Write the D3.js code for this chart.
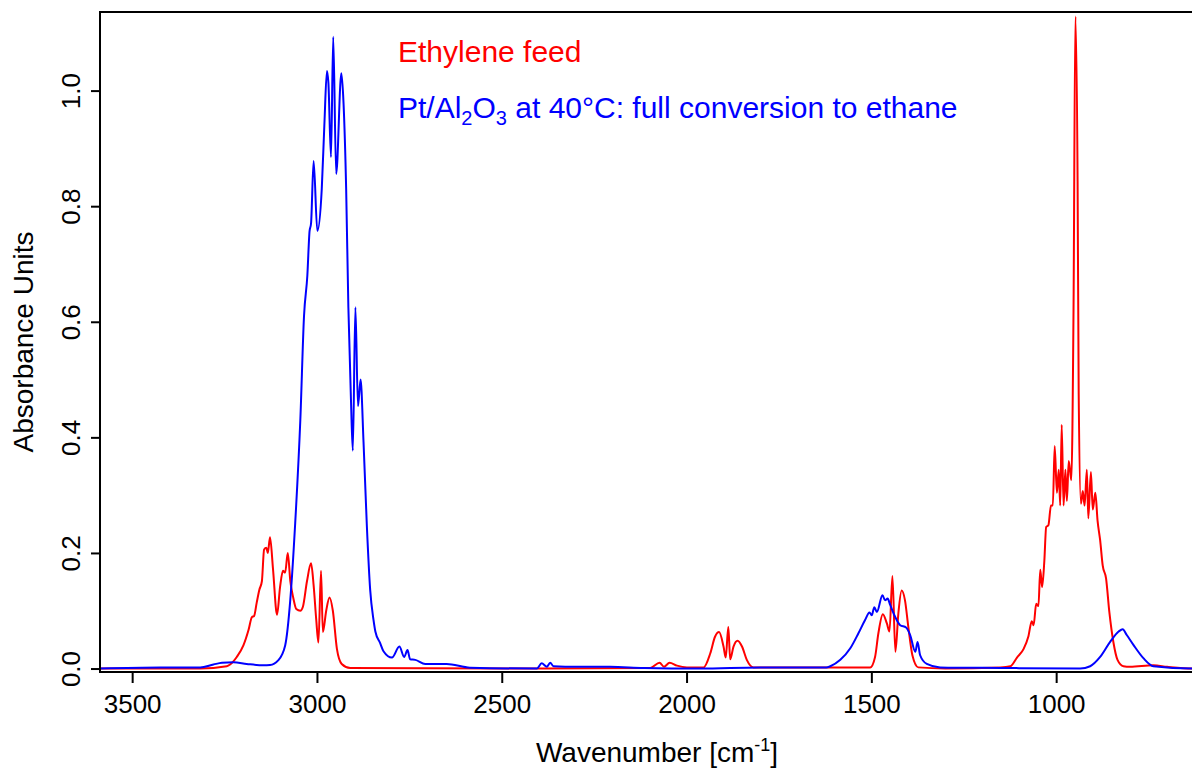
<!DOCTYPE html>
<html>
<head>
<meta charset="utf-8">
<script src="https://cdn.jsdelivr.net/npm/d3@7"></script>
<style>
  body { margin: 0; background: #fff; }
  text { font-family: "Liberation Sans", Arial, sans-serif; }
</style>
</head>
<body>
<div id="chart"></div>
<script>
// [wavenumber cm-1, absorbance]
var ethyleneFeed = [
  [3600, 0.0], [3316, 0.0], [3244, 0.004], [3235, 0.007], [3217, 0.02], [3199, 0.04],
  [3185, 0.067], [3176, 0.089], [3170, 0.091], [3163, 0.114], [3156, 0.136], [3149, 0.151],
  [3143, 0.206], [3137, 0.209], [3133, 0.2], [3127, 0.227], [3119, 0.173], [3108, 0.093],
  [3100, 0.14], [3092, 0.169], [3086, 0.166], [3079, 0.2], [3072, 0.151], [3064, 0.122],
  [3056, 0.103], [3045, 0.1], [3038, 0.107], [3027, 0.151], [3016, 0.182], [3009, 0.144],
  [3002, 0.085], [2996, 0.045], [2989, 0.169], [2984, 0.063], [2975, 0.1], [2966, 0.123],
  [2957, 0.1], [2946, 0.034], [2933, 0.008], [2910, 0.001], [2500, 0.0], [2098, 0.001],
  [2073, 0.01], [2061, 0.003], [2046, 0.01], [2026, 0.005], [1999, 0.002], [1954, 0.002],
  [1936, 0.026], [1923, 0.055], [1912, 0.063], [1900, 0.038], [1894, 0.019], [1887, 0.072],
  [1882, 0.016], [1873, 0.038], [1862, 0.048], [1850, 0.038], [1837, 0.015], [1819, 0.002],
  [1503, 0.002], [1490, 0.02], [1481, 0.061], [1469, 0.094], [1458, 0.078], [1451, 0.064],
  [1443, 0.16], [1435, 0.029], [1427, 0.095], [1418, 0.135], [1409, 0.118], [1400, 0.072],
  [1389, 0.023], [1373, 0.002], [1300, 0.0], [1151, 0.002], [1124, 0.004], [1106, 0.019],
  [1088, 0.034], [1075, 0.056], [1066, 0.082], [1061, 0.075], [1054, 0.112], [1048, 0.108],
  [1043, 0.171], [1038, 0.141], [1032, 0.186], [1027, 0.245], [1021, 0.248], [1014, 0.282],
  [1009, 0.282], [1004, 0.385], [998, 0.304], [993, 0.344], [989, 0.282], [985, 0.422],
  [980, 0.282], [975, 0.344], [971, 0.29], [966, 0.359], [959, 0.326], [953, 0.622],
  [948, 1.128], [942, 0.843], [939, 0.474], [933, 0.285], [928, 0.307], [923, 0.282],
  [917, 0.344], [913, 0.26], [906, 0.34], [901, 0.275], [894, 0.304], [888, 0.256],
  [881, 0.222], [874, 0.178], [865, 0.156], [856, 0.097], [845, 0.045], [834, 0.015],
  [818, 0.004], [800, 0.003], [737, 0.0055], [700, 0.003], [632, 0.0], [600, 0.0]
];

var ethaneProduct = [
  [3600, 0.0], [3424, 0.002], [3316, 0.002], [3280, 0.007], [3257, 0.01], [3226, 0.011],
  [3190, 0.008], [3145, 0.0055], [3127, 0.006], [3105, 0.014], [3086, 0.04], [3072, 0.12],
  [3059, 0.25], [3045, 0.43], [3035, 0.61], [3026, 0.68], [3020, 0.757], [3016, 0.77],
  [3009, 0.878], [2999, 0.757], [2987, 0.83], [2980, 0.94], [2973, 1.034], [2969, 1.013],
  [2962, 0.885], [2956, 1.093], [2948, 0.856], [2934, 1.03], [2928, 0.977], [2921, 0.83],
  [2915, 0.625], [2908, 0.465], [2903, 0.377], [2896, 0.625], [2889, 0.454], [2882, 0.5],
  [2874, 0.392], [2865, 0.247], [2856, 0.136], [2847, 0.084], [2842, 0.064], [2829, 0.044],
  [2820, 0.03], [2797, 0.019], [2777, 0.038], [2764, 0.02], [2755, 0.032], [2748, 0.016],
  [2734, 0.015], [2707, 0.008], [2649, 0.008], [2586, 0.0015], [2405, 0.0], [2392, 0.009],
  [2378, 0.003], [2369, 0.01], [2360, 0.004], [2297, 0.003], [2207, 0.003], [2117, 0.001],
  [1963, 0.0], [1801, 0.002], [1622, 0.002], [1611, 0.004], [1584, 0.015], [1557, 0.035],
  [1535, 0.061], [1517, 0.084], [1505, 0.097], [1499, 0.092], [1492, 0.106], [1485, 0.098],
  [1470, 0.127], [1463, 0.118], [1456, 0.121], [1449, 0.11], [1436, 0.09], [1422, 0.075],
  [1406, 0.071], [1395, 0.058], [1381, 0.029], [1375, 0.046], [1368, 0.023], [1350, 0.008],
  [1314, 0.002], [1151, 0.001], [935, 0.0], [908, 0.004], [881, 0.02], [854, 0.046],
  [831, 0.064], [820, 0.068], [809, 0.058], [791, 0.041], [764, 0.018], [737, 0.004],
  [632, 0.0], [600, 0.0]
];

var xTicks = [3500, 3000, 2500, 2000, 1500, 1000];
var yTicks = [0.0, 0.2, 0.4, 0.6, 0.8, 1.0];
var seriesNames = ["Ethylene feed", "Pt/Al2O3 at 40°C: full conversion to ethane"];
var seriesColors = ["#ff0000", "#0000ff"];

var svgWidth = 1192;
var svgHeight = 778;

var margin = { top: 12, left: 100 };
var plotBottom = 672;
var plotRight = 1204;   // frame runs past the window edge, as in the original

var svg = d3.select("#chart")
    .append("svg")
    .attr("width", svgWidth)
    .attr("height", svgHeight);

var xScale = d3.scaleLinear()
    .domain([3587, 600])
    .range([margin.left, plotRight]);

var yScale = d3.scaleLinear()
    .domain([-0.006, 1.136])
    .range([plotBottom, margin.top]);

var line = d3.line()
    .x(d => xScale(d[0]))
    .y(d => yScale(d[1]))
    .curve(d3.curveMonotoneX);

svg.append("defs").append("clipPath")
    .attr("id", "plotClip")
    .append("rect")
    .attr("x", margin.left)
    .attr("y", margin.top)
    .attr("width", plotRight - margin.left)
    .attr("height", plotBottom - margin.top);

var lines = svg.append("g").attr("clip-path", "url(#plotClip)");

[ethyleneFeed, ethaneProduct].forEach(function(series, i) {
    lines.append("path")
        .datum(series)
        .attr("fill", "none")
        .attr("stroke", seriesColors[i])
        .attr("stroke-width", 2)
        .attr("stroke-linejoin", "round")
        .attr("d", line);
});

// frame
svg.append("rect")
    .attr("x", margin.left)
    .attr("y", margin.top)
    .attr("width", plotRight - margin.left)
    .attr("height", plotBottom - margin.top)
    .attr("fill", "none")
    .attr("stroke", "black")
    .attr("stroke-width", 2);

var bottomAxis = d3.axisBottom(xScale)
    .tickValues(xTicks)
    .tickSize(11)
    .tickPadding(12)
    .tickFormat(d3.format("d"));

var gx = svg.append("g")
    .attr("transform", `translate(0, ${plotBottom})`)
    .call(bottomAxis);
gx.select(".domain").remove();
gx.selectAll("line").attr("stroke-width", 2);
gx.selectAll("text")
    .attr("font-size", "26px")
    .attr("font-family", "'Liberation Sans', Arial, sans-serif")
    .attr("fill", "black");

var leftAxis = d3.axisLeft(yScale)
    .tickValues(yTicks)
    .tickSize(9)
    .tickFormat(d3.format(".1f"));

var gy = svg.append("g")
    .attr("transform", `translate(${margin.left}, 0)`)
    .call(leftAxis);
gy.select(".domain").remove();
gy.selectAll("line").attr("stroke-width", 2);
gy.selectAll("text")
    .attr("transform", "rotate(-90)")
    .attr("x", 0)
    .attr("y", -20)
    .attr("dy", 0)
    .attr("text-anchor", "middle")
    .attr("font-size", "26px")
    .attr("font-family", "'Liberation Sans', Arial, sans-serif")
    .attr("fill", "black");

// axis titles
var xTitle = svg.append("text")
    .attr("x", (margin.left + svgWidth) / 2 + 11)
    .attr("y", 762)
    .attr("text-anchor", "middle")
    .attr("font-size", "28px")
    .attr("fill", "black");
xTitle.append("tspan").text("Wavenumber [cm");
xTitle.append("tspan").attr("font-size", "18px").attr("dy", -11).text("-1");
xTitle.append("tspan").attr("dy", 11).text("]");

svg.append("text")
    .attr("transform", `translate(33, ${(margin.top + plotBottom) / 2}) rotate(-90)`)
    .attr("text-anchor", "middle")
    .attr("font-size", "28px")
    .attr("fill", "black")
    .text("Absorbance Units");

// legend text
svg.append("text")
    .attr("x", 398)
    .attr("y", 62)
    .attr("font-size", "30px")
    .attr("fill", seriesColors[0])
    .text(seriesNames[0]);

var label2 = svg.append("text")
    .attr("x", 398)
    .attr("y", 118)
    .attr("font-size", "30px")
    .attr("fill", seriesColors[1]);
label2.append("tspan").text("Pt/Al");
label2.append("tspan").attr("font-size", "20px").attr("dy", 7).text("2");
label2.append("tspan").attr("dy", -7).text("O");
label2.append("tspan").attr("font-size", "20px").attr("dy", 7).text("3");
label2.append("tspan").attr("dy", -7).text(" at 40°C: full conversion to ethane");
</script>
</body>
</html>
